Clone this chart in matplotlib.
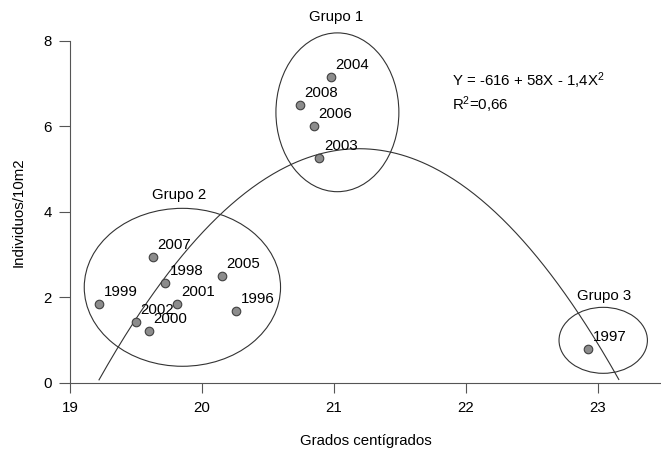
import numpy as np
import matplotlib
matplotlib.use("Agg")
import matplotlib.pyplot as plt
from matplotlib.patches import Ellipse

plt.rcParams['font.family'] = ['Liberation Sans', 'DejaVu Sans']
plt.rcParams['mathtext.fontset'] = 'custom'
plt.rcParams['mathtext.rm'] = 'Liberation Sans'
plt.rcParams['mathtext.it'] = 'Liberation Sans'
plt.rcParams['mathtext.default'] = 'regular'

# Data (temperature, individuals/10m2, year)
years = ['2007', '1998', '2005', '1999', '2001', '1996', '2002', '2000',
         '2008', '2006', '2003', '2004', '1997']
temp = [19.63, 19.72, 20.15, 19.22, 19.81, 20.26, 19.50, 19.60,
        20.74, 20.85, 20.89, 20.98, 22.93]
indiv = [2.95, 2.33, 2.50, 1.84, 1.84, 1.67, 1.42, 1.21,
         6.51, 6.01, 5.25, 7.16, 0.78]

# Fitted curve coefficients as drawn (Y = c0 + c1 X + c2 X^2)
c0, c1, c2 = -620.5, 59.08, -1.394
curve_range = (19.22, 23.16)

# Group ellipses: name, center x, center y, width, height, label x, label y
groups = ['Grupo 1', 'Grupo 2', 'Grupo 3']
g_cx = [21.027, 19.852, 23.042]
g_cy = [6.33, 2.23, 0.988]
g_w = [0.932, 1.488, 0.67]
g_h = [3.72, 3.70, 1.546]
g_lx = [21.02, 19.83, 23.045]
g_ly = [8.57, 4.39, 2.03]

xticks = [19, 20, 21, 22, 23]
yticks = [0, 2, 4, 6, 8]

fs = 10.8

fig = plt.figure(figsize=(6.61, 4.49), dpi=100)
ax = fig.add_axes([70/661, (449-382.5)/449, 1 - 70/661, (382.5-41)/449])
ax.set_xlim(19, 23.48)
ax.set_ylim(0, 8)

lc = '#333333'
xs = np.linspace(curve_range[0], curve_range[1], 300)
ax.plot(xs, c0 + c1*xs + c2*xs**2, color=lc, lw=0.8, clip_on=False)

for cx, cy, w, h in zip(g_cx, g_cy, g_w, g_h):
    ax.add_patch(Ellipse((cx, cy), w, h, fill=False, edgecolor=lc, lw=0.8, clip_on=False))
for name, lx, ly in zip(groups, g_lx, g_ly):
    ax.text(lx, ly, name, ha='center', va='center', fontsize=fs, clip_on=False)

ax.scatter(temp, indiv, s=38, facecolor='#8c8c8c', edgecolor='#404040', lw=0.8, zorder=3, clip_on=False)
for yr, x, y in zip(years, temp, indiv):
    ax.annotate(yr, (x, y), xytext=(3.2, 8.6), textcoords='offset points',
                ha='left', va='center', fontsize=fs)

ax.text(452/661, (449-81)/449, 'Y = -616 + 58X - 1,4X$^{2}$', transform=fig.transFigure,
        ha='left', va='center', fontsize=fs)
ax.text(452/661, (449-104.5)/449, 'R$^{2}$=0,66', transform=fig.transFigure,
        ha='left', va='center', fontsize=fs)

for s in ['top', 'right']:
    ax.spines[s].set_visible(False)
for s in ['left', 'bottom']:
    ax.spines[s].set_color('#555555')
    ax.spines[s].set_linewidth(0.8)
ax.set_xticks(xticks)
ax.set_yticks(yticks)
ax.tick_params(axis='both', direction='out', length=8, width=0.8, color='#555555',
               labelsize=fs, pad=5)
ax.tick_params(axis='x', length=7.5, pad=6)

ax.set_xlabel('Grados centígrados', fontsize=fs, labelpad=13.5)
ax.set_ylabel('Individuos/10m2', fontsize=fs, labelpad=13)

fig.savefig('out.png', dpi=100)
